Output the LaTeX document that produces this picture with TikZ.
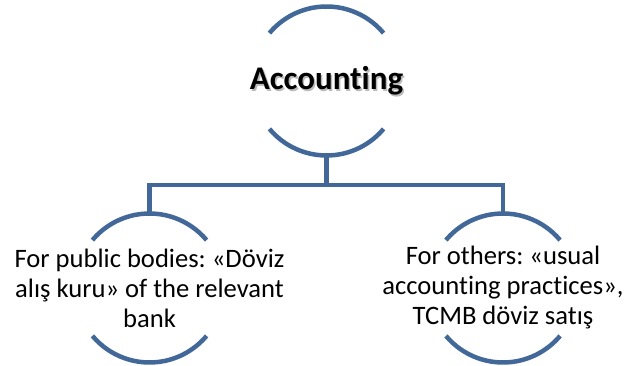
\documentclass[tikz,border=0pt]{standalone}
\usepackage{fontspec}
\setmainfont[Ligatures=NoCommon]{Carlito}
\definecolor{arcblue}{RGB}{66,104,154}
\begin{document}
\frenchspacing
\begin{tikzpicture}[x=1pt,y=1pt,
  ring/.style={circle,inner sep=0pt,outer sep=0pt,minimum size=149pt},
  arcline/.style={draw=arcblue,line width=4.5pt},
  bodytext/.style={align=center,font=\fontsize{26.6}{30}\selectfont,text=black}]
\useasboundingbox (0,0) rectangle (629,366);
\node[ring] (top) at (326.5,285) {};
\node[ring] (left) at (149.5,78) {};
\node[ring] (right) at (503,78) {};
\coordinate (hub) at (326.5,181);
% arcs
\foreach \n in {top,left,right}{
  \draw[arcline] (\n.40) arc[start angle=40,end angle=140,radius=74.5pt];
  \draw[arcline] (\n.220) arc[start angle=220,end angle=320,radius=74.5pt];
}
% connectors
\draw[arcline] (top.south) -- (hub);
\draw[arcline] (left.north) -- (left.north |- hub) -- (right.north |- hub) -- (right.north);
% texts
\node[font=\fontsize{33}{40}\selectfont\bfseries,text=black!45,opacity=0.6] at ([shift={(1.6,-1.6)}]top.center) {Accounting};
\node[font=\fontsize{33}{40}\selectfont\bfseries,text=black] (toptext) at (top.center) {Accounting};
\node[bodytext] (lefttext) at (left.center) {For public bodies: «Döviz\\alış kuru» of the relevant\\bank};
\node[bodytext] (righttext) at (right.center) {For others: «usual\\accounting practices»,\\TCMB döviz satış};
\end{tikzpicture}
\end{document}
